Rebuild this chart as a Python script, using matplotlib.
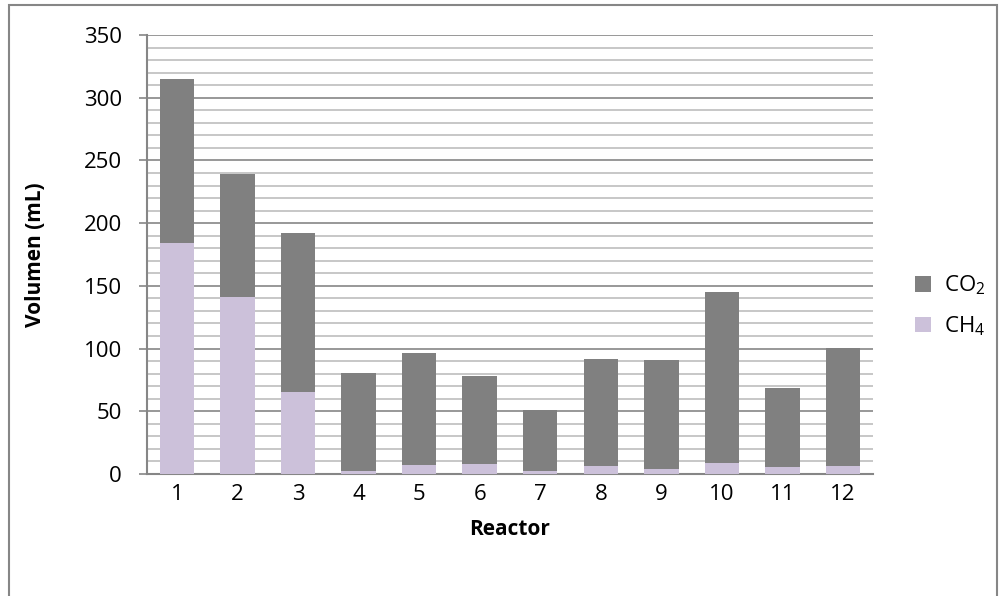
import matplotlib
matplotlib.use("Agg")
import matplotlib.pyplot as plt
from matplotlib.patches import Rectangle
import numpy as np

reactors = ["1", "2", "3", "4", "5", "6", "7", "8", "9", "10", "11", "12"]
ch4 = [184, 141, 65, 2.7, 7.4, 8.0, 2.4, 6.6, 3.7, 9.0, 5.6, 6.1]
total = [315, 239, 192, 80.5, 96.7, 77.8, 51, 91.5, 91.2, 145, 68.9, 100.2]
co2 = [t - c for t, c in zip(total, ch4)]

plt.rcParams['font.family'] = ['Open Sans', 'DejaVu Sans']
plt.rcParams['mathtext.fontset'] = 'custom'
plt.rcParams['mathtext.rm'] = 'Open Sans'
plt.rcParams['mathtext.it'] = 'Open Sans'

fig = plt.figure(figsize=(9.99, 5.96), dpi=100)
ax = fig.add_axes([0.147, 0.2047, 0.727, 0.7366])

x = np.arange(len(reactors))
w = 0.57
c_co2 = '#808080'
c_ch4 = '#CCC1DA'
b1 = ax.bar(x, ch4, w, color=c_ch4, zorder=3, label=r'CH$_4$')
b2 = ax.bar(x, co2, w, bottom=ch4, color=c_co2, zorder=3, label=r'CO$_2$')

ax.set_xlim(-0.5, len(reactors) - 0.5)
ax.set_ylim(0, 350)
ax.set_yticks(np.arange(0, 351, 50))
ax.set_yticks(np.arange(0, 351, 10), minor=True)
ax.set_xticks(x)
ax.set_xticklabels(reactors)
ax.grid(axis='y', which='minor', color='#BEBEBE', lw=1.2, zorder=1)
ax.grid(axis='y', which='major', color='#868686', lw=1.2, zorder=2)
ax.tick_params(axis='y', which='major', length=6, color='#868686', width=1.2, labelsize=16, pad=12)
ax.tick_params(axis='y', which='minor', length=0)
ax.tick_params(axis='x', length=0, labelsize=16, pad=7)
for s in ['top', 'right']:
    ax.spines[s].set_visible(False)
for s in ['left', 'bottom']:
    ax.spines[s].set_color('#868686')
    ax.spines[s].set_linewidth(1.5)

ax.set_ylabel('Volumen (mL)', fontsize=15, fontweight='bold', labelpad=27)
ax.set_xlabel('Reactor', fontsize=15, fontweight='bold', labelpad=10)

handles = [b2, b1]
leg = fig.legend(handles, [r'CO$_2$', r'CH$_4$'], loc='center left',
                 bbox_to_anchor=(0.896, 0.487), frameon=False, fontsize=16,
                 handlelength=0.7, handleheight=0.7, handletextpad=0.6,
                 labelspacing=0.75)

fig.patches.append(Rectangle((0.009, -0.01), 0.989, 1.0022,
                             transform=fig.transFigure, fill=False,
                             edgecolor='#868686', lw=1.5))

fig.savefig('out.png', dpi=100)
